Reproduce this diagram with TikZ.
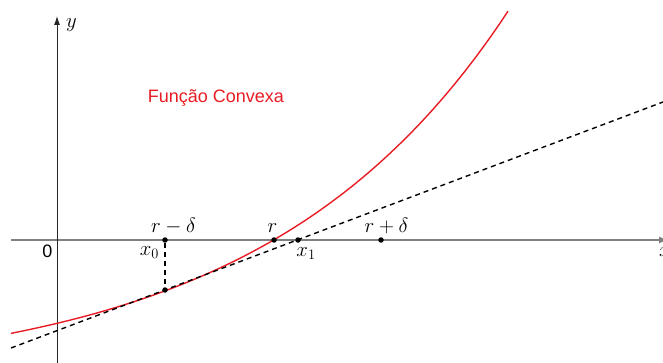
\documentclass[tikz,border=0pt]{standalone}
\usepackage{fontspec}
\setsansfont{Liberation Sans}
\usetikzlibrary{arrows.meta}
\definecolor{curvered}{RGB}{232,28,36}
\definecolor{axisgray}{RGB}{128,128,128}
\tikzset{
  axisx/.style={draw=axisgray, line width=1.1pt, -{Latex[length=9pt,width=7pt]}},
  axisy/.style={draw=black!85, line width=0.9pt, -{Latex[length=9pt,width=6pt]}},
  dot/.style={circle, fill=black, inner sep=0pt, minimum size=5.5pt},
  mlabel/.style={font=\fontsize{20}{24}\selectfont, inner sep=0pt, anchor=base},
  slabel/.style={font=\sffamily\fontsize{18}{22}\selectfont, inner sep=0pt, anchor=base},
  dashline/.style={black, line width=1.4pt, dash pattern=on 5pt off 4pt},
  fcurve/.style={curvered, line width=1.4pt}
}
\begin{document}
\begin{tikzpicture}[x=1pt, y=-1pt]
\useasboundingbox (0,0) rectangle (663,363);
\clip (0,0) rectangle (663,363);
% axes
\coordinate (xstart) at (11,240);
\coordinate (xend) at (668,240);
\coordinate (ystart) at (57,363);
\coordinate (yend) at (57,16);
\draw[axisx] (xstart) -- (xend);
\draw[axisy] (ystart) -- (yend);
% curve
\draw[fcurve, domain=11:508, samples=120, smooth]
  plot (\x, {240 - (exp(-1.528+0.0041*(\x-34))/0.0041 - 141.5)});
% tangent line
\coordinate (tA) at (11,348);
\coordinate (tB) at (663,102);
\draw[dashline] (tA) -- (tB);
% points
\node[dot] (p0) at (165,240) {};
\node[dot] (pr) at (274,240) {};
\node[dot] (p1) at (298,240) {};
\node[dot] (prd) at (381,240) {};
\node[dot] (q0) at (165,290) {};
\draw[dashline] (p0) -- (q0);
% labels
\node[mlabel] (ly) at (71.5,28) {$y$};
\node[slabel] (l0) at (47.5,257) {0};
\node[mlabel] (lrm) at (173.5,233) {$r-\delta$};
\node[mlabel] (lr) at (272.5,233) {$r$};
\node[mlabel] (lrp) at (386.5,233) {$r+\delta$};
\node[mlabel] (lx0) at (149.5,255) {$x_0$};
\node[mlabel] (lx1) at (306,256) {$x_1$};
\node[mlabel, anchor=base west] (lx) at (659,256) {$x$};
\node[slabel, text=curvered] (lf) at (216,103) {Função Convexa};
\end{tikzpicture}
\end{document}
